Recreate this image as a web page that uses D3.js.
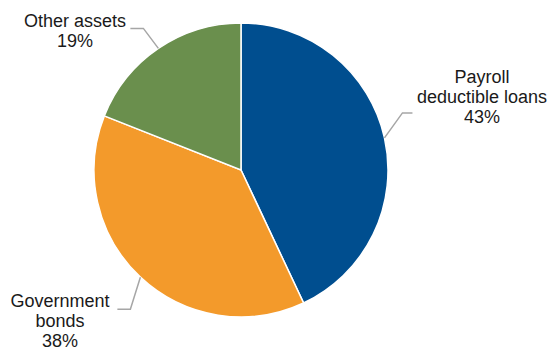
<!DOCTYPE html>
<html><head><meta charset="utf-8">
<script src="https://cdn.jsdelivr.net/npm/d3@7"></script>
<style>
html,body{margin:0;padding:0;background:#fff;}
svg{display:block;}
text{font-family:"Liberation Sans",Arial,sans-serif;font-size:18px;fill:#1a1a1a;}
</style></head>
<body>
<svg id="chart" width="554" height="351"></svg>
<script>
const categories = ["Payroll deductible loans", "Government bonds", "Other assets"];
const values = [43, 38, 19];
const labelLines = [["Payroll", "deductible loans", "43%"], ["Government", "bonds", "38%"], ["Other assets", "19%"]];
const colors = ["#004e8f", "#f39a2b", "#6a8f4d"];

// label layout (elbow offset from slice mid-point on rim, horizontal run, text anchor)
const labelLayout = [
  {elbow: [18, -25], run: 10, textX: 482, textY: 83},
  {elbow: [-10, 32], run: -13, textX: 60, textY: 307},
  {elbow: [-15, -20], run: -13, textX: 75, textY: 27}
];

const svg = d3.select("#chart");
const cx = 241, cy = 170, r = 147;
const g = svg.append("g").attr("transform", `translate(${cx},${cy})`);

const pie = d3.pie().sort(null).value(d => d)(values);
const arc = d3.arc().innerRadius(0).outerRadius(r);

g.selectAll("path.slice").data(pie).join("path")
  .attr("class", "slice")
  .attr("d", arc)
  .attr("fill", (d, i) => colors[i])
  .attr("stroke", "#fff")
  .attr("stroke-width", 1.5);

pie.forEach((d, i) => {
  const a = (d.startAngle + d.endAngle) / 2;
  const p0 = [cx + r * Math.sin(a), cy - r * Math.cos(a)];
  const L = labelLayout[i];
  const p1 = [p0[0] + L.elbow[0], p0[1] + L.elbow[1]];
  const p2 = [p1[0] + L.run, p1[1]];
  svg.append("polyline")
    .attr("points", [p0, p1, p2].map(p => p.join(",")).join(" "))
    .attr("fill", "none")
    .attr("stroke", "#a6a6a6")
    .attr("stroke-width", 1.5);
  const t = svg.append("text").attr("text-anchor", "middle");
  labelLines[i].forEach((line, j) => {
    t.append("tspan").attr("x", L.textX).attr("y", L.textY + j * 20).text(line);
  });
});
</script>
</body></html>
